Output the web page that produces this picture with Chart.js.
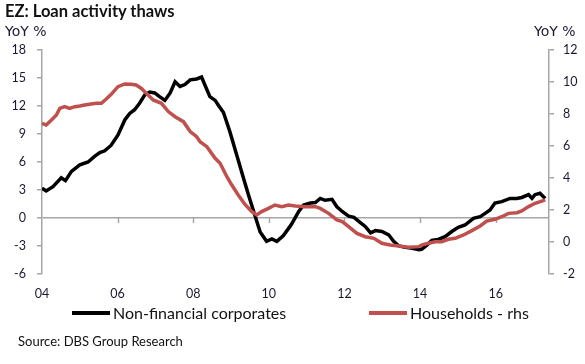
<!DOCTYPE html>
<html>
<head>
<meta charset="utf-8">
<script src="https://cdn.jsdelivr.net/npm/chart.js@4.4.1/dist/chart.umd.min.js"></script>
<style>
  body { margin: 0; background: #fff; }
  #wrap { position: relative; width: 585px; height: 364px; font-family: Lato, sans-serif; color: #111; }
  #wrap canvas { position: absolute; left: 0; top: 0; }
  .title { position: absolute; left: 5px; top: 1px; font-weight: bold; font-size: 16.5px; }
  .unit { position: absolute; top: 23px; font-family: 'DejaVu Sans', sans-serif; font-size: 14px; color: #1a1a2e; }
  .legend-item { position: absolute; top: 303px; display: flex; align-items: center; font-size: 16px; white-space: nowrap; }
  .legend-item span.swatch { display: inline-block; width: 38px; height: 4px; margin-right: 3px; }
  .source { position: absolute; left: 18px; top: 333px; font-size: 13px; }
</style>
</head>
<body>
<div id="wrap">
  <canvas id="chart" width="585" height="364"></canvas>
  <div class="title">EZ: Loan activity thaws</div>
  <div class="unit" style="left:5px">YoY %</div>
  <div class="unit" style="left:534px">YoY %</div>
  <div id="legend"></div>
  <div class="source">Source: DBS Group Research</div>
</div>
<script>
// Non-financial corporates, YoY % (left axis)
const nfcDates = [
  2004.00, 2004.11, 2004.29, 2004.51, 2004.62, 2004.78, 2005.00, 2005.22, 2005.39, 2005.53,
  2005.66, 2005.83, 2006.01, 2006.19, 2006.32, 2006.45, 2006.58, 2006.72, 2006.85, 2006.98,
  2007.11, 2007.25, 2007.39, 2007.52, 2007.65, 2007.78, 2007.92, 2008.09, 2008.22, 2008.44,
  2008.58, 2008.66, 2008.80, 2008.97, 2009.15, 2009.33, 2009.46, 2009.63, 2009.77, 2009.94,
  2010.08, 2010.21, 2010.38, 2010.56, 2010.61, 2010.79, 2010.92, 2011.10, 2011.23, 2011.36,
  2011.49, 2011.67, 2011.80, 2011.94, 2012.11, 2012.25, 2012.42, 2012.55, 2012.69, 2012.82,
  2012.99, 2013.17, 2013.30, 2013.44, 2013.61, 2013.79, 2013.97, 2014.04, 2014.18, 2014.31,
  2014.48, 2014.66, 2014.84, 2015.01, 2015.19, 2015.41, 2015.59, 2015.72, 2015.85, 2015.98,
  2016.16, 2016.38, 2016.56, 2016.69, 2016.87, 2016.96, 2017.04, 2017.17, 2017.31,
];
const nfcValues = [
  3.2, 2.9, 3.35, 4.3, 4.0, 5.0, 5.7, 6.0, 6.6, 7.0,
  7.2, 7.8, 8.9, 10.5, 11.2, 11.6, 12.3, 13.2, 13.5, 13.4,
  13.0, 12.6, 13.4, 14.6, 14.1, 14.3, 14.8, 14.9, 15.1, 13.0,
  12.6, 12.1, 11.3, 9.25, 6.75, 4.25, 2.5, 0.3, -1.5, -2.5,
  -2.25, -2.5, -1.9, -0.9, -0.6, 0.7, 1.4, 1.6, 1.65, 2.1,
  1.9, 2.0, 1.2, 0.7, 0.2, 0.07, -0.5, -0.9, -1.6, -1.35,
  -1.45, -1.8, -2.5, -3.0, -3.15, -3.25, -3.4, -3.35, -2.9, -2.4,
  -2.3, -2.0, -1.45, -1.0, -0.75, -0.03, 0.15, 0.5, 0.85, 1.6,
  1.75, 2.1, 2.1, 2.2, 2.5, 2.1, 2.5, 2.65, 2.1,
];

// Households, YoY % (right axis)
const hhDates = [
  2004.00, 2004.11, 2004.25, 2004.38, 2004.47, 2004.60, 2004.73, 2004.87, 2005.00, 2005.13,
  2005.30, 2005.44, 2005.57, 2005.70, 2005.83, 2006.01, 2006.19, 2006.36, 2006.49, 2006.63,
  2006.76, 2006.94, 2007.16, 2007.34, 2007.52, 2007.74, 2007.92, 2008.09, 2008.18, 2008.36,
  2008.58, 2008.71, 2008.89, 2009.02, 2009.19, 2009.37, 2009.55, 2009.68, 2009.81, 2009.99,
  2010.16, 2010.34, 2010.52, 2010.70, 2010.97, 2011.23, 2011.36, 2011.58, 2011.80, 2011.94,
  2012.11, 2012.33, 2012.55, 2012.78, 2012.99, 2013.21, 2013.44, 2013.70, 2013.97, 2014.04,
  2014.22, 2014.40, 2014.57, 2014.75, 2014.93, 2015.15, 2015.37, 2015.59, 2015.76, 2015.98,
  2016.16, 2016.34, 2016.56, 2016.69, 2016.87, 2017.04, 2017.22, 2017.31,
];
const hhValues = [
  7.42, 7.31, 7.63, 7.94, 8.35, 8.46, 8.35, 8.46, 8.5, 8.56,
  8.63, 8.67, 8.67, 8.94, 9.23, 9.71, 9.88, 9.86, 9.81, 9.6,
  9.29, 8.88, 8.67, 8.15, 7.83, 7.52, 6.9, 6.58, 6.27, 5.96,
  5.23, 4.92, 4.08, 3.56, 2.94, 2.35, 1.9, 1.69, 1.9, 2.1,
  2.31, 2.21, 2.31, 2.25, 2.21, 2.21, 2.1, 1.79, 1.38, 1.27,
  0.96, 0.54, 0.33, 0.23, -0.08, -0.19, -0.25, -0.33, -0.29, -0.19,
  -0.08, 0.02, 0.02, 0.17, 0.23, 0.44, 0.71, 1.0, 1.31, 1.42,
  1.58, 1.79, 1.83, 1.94, 2.21, 2.42, 2.56, 2.63,
];

const xTicks = [2004, 2006, 2008, 2010, 2012, 2014, 2016];
const leftTicks = [-6, -3, 0, 3, 6, 9, 12, 15, 18];
const rightTicks = [-2, 0, 2, 4, 6, 8, 10, 12];

const COLORS = { nfc: '#000000', hh: '#c0504d', axis: '#a6a6a6', text: '#1a1a2e' };
const TICK_FONT = { family: 'Lato, sans-serif', size: 12.5 };
const LEGEND_LEFT = [72, 369];

function toPoints(dates, values) {
  return dates.map((d, i) => ({ x: d, y: values[i] }));
}

// small tick marks hanging off the zero line for each year label
const zeroLineTicks = {
  id: 'zeroLineTicks',
  beforeDatasetsDraw(chart) {
    const { ctx, scales: { x, y } } = chart;
    const y0 = y.getPixelForValue(0);
    ctx.save();
    ctx.strokeStyle = COLORS.axis;
    ctx.lineWidth = 1.5;
    x.ticks.forEach((t) => {
      if (t.value === x.min) return;
      const px = Math.round(x.getPixelForValue(t.value)) + 0.5;
      ctx.beginPath();
      ctx.moveTo(px, y0);
      ctx.lineTo(px, y0 + 5);
      ctx.stroke();
    });
    ctx.restore();
  },
};

const datasets = [
  {
    label: 'Non-financial corporates',
    data: toPoints(nfcDates, nfcValues),
    yAxisID: 'y',
    borderColor: COLORS.nfc,
    order: 1,
  },
  {
    label: 'Households - rhs',
    data: toPoints(hhDates, hhValues),
    yAxisID: 'y1',
    borderColor: COLORS.hh,
    order: 0,
  },
];

new Chart(document.getElementById('chart'), {
  type: 'line',
  data: {
    datasets: datasets.map((ds) => ({
      ...ds,
      borderWidth: 3.5,
      pointRadius: 0,
      tension: 0,
      fill: false,
    })),
  },
  options: {
    responsive: false,
    animation: false,
    devicePixelRatio: 1,
    layout: { padding: { top: 50, bottom: 60, left: 0, right: 0 } },
    plugins: { legend: { display: false }, tooltip: { enabled: false } },
    scales: {
      x: {
        type: 'linear',
        min: 2004,
        max: 2017.41,
        afterBuildTicks: (scale) => { scale.ticks = xTicks.map((v) => ({ value: v })); },
        afterFit: (scale) => { scale.height = 30; },
        grid: { display: false, drawTicks: false },
        border: { display: false },
        ticks: {
          padding: 12,
          font: TICK_FONT,
          color: COLORS.text,
          maxRotation: 0,
          callback: (v) => String(v).slice(2),
        },
      },
      y: {
        position: 'left',
        min: -6,
        max: 18,
        afterBuildTicks: (scale) => { scale.ticks = leftTicks.map((v) => ({ value: v })); },
        afterFit: (scale) => { scale.width = 42; },
        border: { display: true, color: COLORS.axis, width: 1.5 },
        grid: {
          color: (ctx) => (ctx.tick && ctx.tick.value === 0 ? COLORS.axis : 'transparent'),
          lineWidth: 1.5,
          tickColor: COLORS.axis,
          tickLength: 5,
        },
        ticks: { padding: 11, font: TICK_FONT, color: COLORS.text },
      },
      y1: {
        position: 'right',
        min: -2,
        max: 12,
        afterBuildTicks: (scale) => { scale.ticks = rightTicks.map((v) => ({ value: v })); },
        afterFit: (scale) => { scale.width = 36; },
        border: { display: true, color: COLORS.axis, width: 1.5 },
        grid: { drawOnChartArea: false, tickColor: COLORS.axis, tickLength: 5, lineWidth: 1.5 },
        ticks: { padding: 9, font: TICK_FONT, color: COLORS.text },
      },
    },
  },
  plugins: [zeroLineTicks],
});

// legend built from the dataset definitions
const legend = document.getElementById('legend');
datasets.forEach((ds, i) => {
  const item = document.createElement('div');
  item.className = 'legend-item';
  item.style.left = LEGEND_LEFT[i] + 'px';
  item.innerHTML = `<span class="swatch" style="background:${ds.borderColor}"></span>${ds.label}`;
  legend.appendChild(item);
});
</script>
</body>
</html>
